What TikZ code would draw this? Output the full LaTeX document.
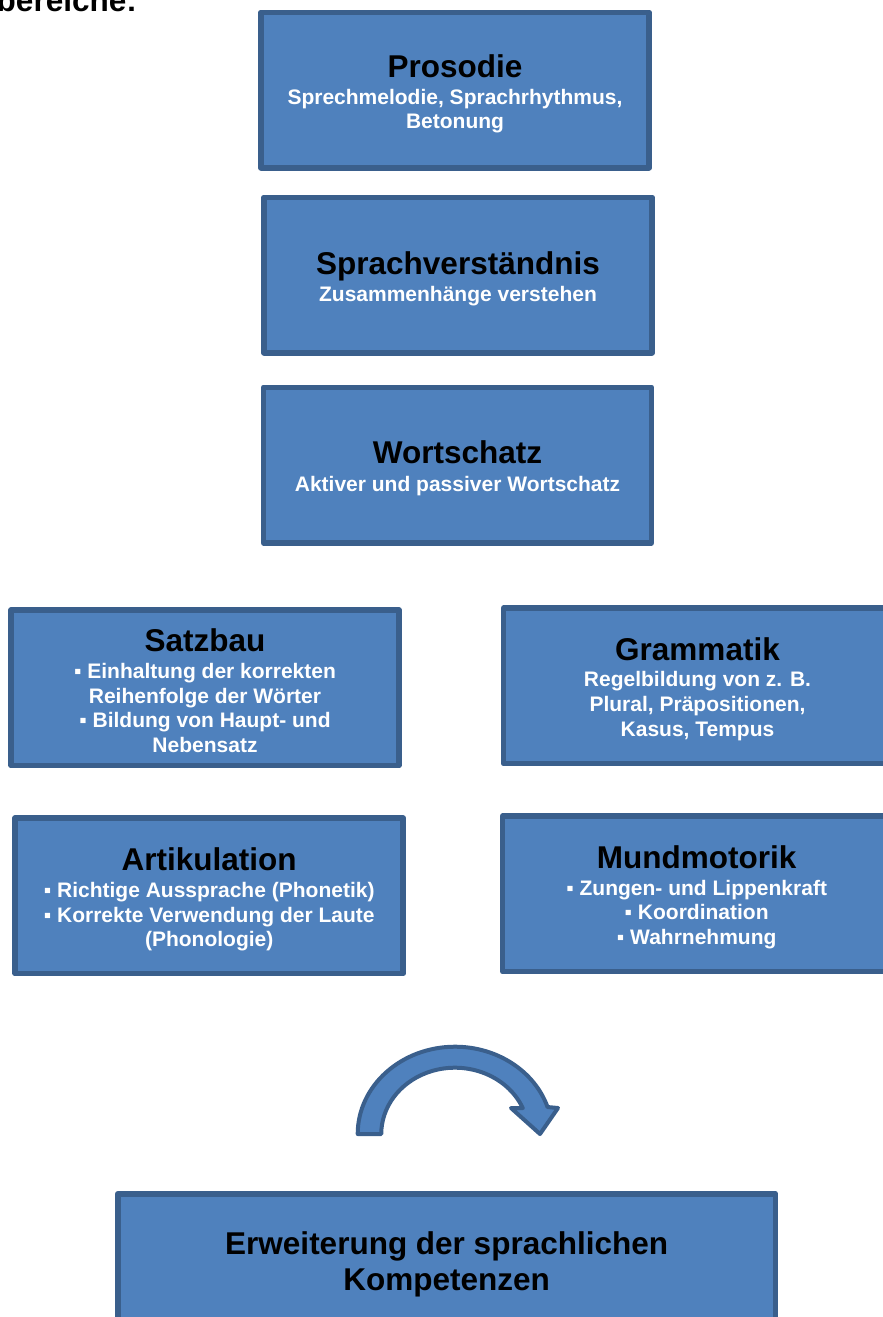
\documentclass[tikz,border=0pt]{standalone}
\usepackage{fontspec}
\setmainfont{Liberation Sans}
\definecolor{boxfill}{HTML}{4F81BD}
\definecolor{boxline}{HTML}{3A5F8C}
\begin{document}
\begin{tikzpicture}[x=1pt,y=1pt,
  box/.style={draw=boxline, fill=boxfill, line width=5.5pt, line join=round,
    minimum width=388pt, minimum height=155.5pt, inner sep=0pt},
  ttl/.style={anchor=base, inner sep=0pt, text=black,
    font=\bfseries\fontsize{31.5}{36}\selectfont},
  bdy/.style={anchor=north, align=center, inner sep=0pt, text=white,
    font=\bfseries\fontsize{21}{24.6}\selectfont},
  arrowshape/.style={draw=boxline, fill=boxfill, line width=4pt, line join=round}]
\useasboundingbox (0,0) rectangle (883,-1317);

% heading fragment at top left
\node[anchor=base east, inner sep=0pt, font=\bfseries\fontsize{31.5}{36}\selectfont] (heading) at (137,-11) {bereiche:};

% Prosodie
\node[box] (prosodieBox) at (455,-90) {};
\node[ttl] (prosodieTitle) at (455,-77.3) {Prosodie};
\node[bdy] (prosodieText) at (455,-87) {\rule{0pt}{17pt}Sprechmelodie, Sprachrhythmus,\\Betonung};

% Sprachverstaendnis
\node[box] (verstBox) at (458,-275) {};
\node[ttl] (verstTitle) at (458,-274.3) {Sprachverständnis};
\node[bdy] (verstText) at (458,-284.7) {\rule{0pt}{17pt}Zusammenhänge verstehen};

% Wortschatz
\node[box] (wortBox) at (457.5,-465) {};
\node[ttl] (wortTitle) at (457.5,-463.3) {Wortschatz};
\node[bdy] (wortText) at (457.5,-474.7) {\rule{0pt}{17pt}Aktiver und passiver Wortschatz};

% Satzbau
\node[box] (satzBox) at (205,-687.8) {};
\node[ttl] (satzTitle) at (205,-651.7) {Satzbau};
\node[bdy] (satzText) at (205,-661.3) {\rule{0pt}{17pt}▪ Einhaltung der korrekten\\Reihenfolge der Wörter\\▪ Bildung von Haupt- und\\Nebensatz};

% Grammatik
\node[box] (gramBox) at (697.5,-685.9) {};
\node[ttl] (gramTitle) at (697.5,-660) {Grammatik};
\node[bdy] (gramText) at (697.5,-669.7) {\rule{0pt}{17pt}Regelbildung von z. B.\\Plural, Präpositionen,\\Kasus, Tempus};

% Artikulation
\node[box] (artBox) at (209.2,-895.9) {};
\node[ttl] (artTitle) at (209.2,-870.7) {Artikulation};
\node[bdy] (artText) at (209.2,-880.3) {\rule{0pt}{17pt}▪ Richtige Aussprache (Phonetik)\\▪ Korrekte Verwendung der Laute\\(Phonologie)};

% Mundmotorik
\node[box] (mundBox) at (696.7,-893.8) {};
\node[ttl] (mundTitle) at (696.7,-868.3) {Mundmotorik};
\node[bdy] (mundText) at (696.7,-878) {\rule{0pt}{17pt}▪ Zungen- und Lippenkraft\\▪ Koordination\\▪ Wahrnehmung};

% curved arrow
\draw[arrowshape] (357.7,-1134)
  arc[start angle=180, end angle=18, x radius=97.3, y radius=87.3]
  -- (558,-1108) -- (540,-1134) -- (511,-1108) -- (522.8,-1108.1)
  arc[start angle=23, end angle=180, x radius=73.7, y radius=66.3]
  -- cycle;

% Erweiterung
\node[box, minimum width=657.8pt] (erwBox) at (446.65,-1271.5) {};
\node[anchor=north, align=center, inner sep=0pt, text=black,
  font=\bfseries\fontsize{31.5}{36}\selectfont] (erwTitle) at (446.65,-1228)
  {\rule{0pt}{26pt}Erweiterung der sprachlichen\\Kompetenzen};
\end{tikzpicture}
\end{document}
